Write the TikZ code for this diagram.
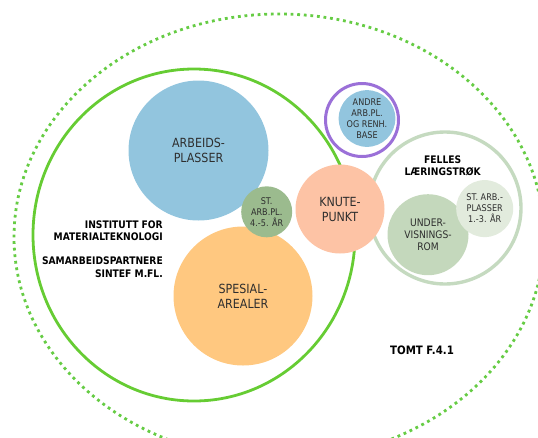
\documentclass[tikz,border=0pt]{standalone}
\usepackage{fontspec}
\setmainfont[FakeStretch=0.88]{DejaVu Sans}
\usetikzlibrary{shapes.geometric}
\definecolor{cblue}{HTML}{92C5DE}
\definecolor{corange}{HTML}{FFC880}
\definecolor{cpeach}{HTML}{FDC3A5}
\definecolor{cgreenA}{HTML}{9BBB8E}
\definecolor{cgreenB}{HTML}{C4D8BC}
\definecolor{cgreenC}{HTML}{E2EBDD}
\definecolor{cring}{HTML}{C5DAC0}
\definecolor{cline}{HTML}{66CC33}
\definecolor{cdots}{HTML}{66CC44}
\definecolor{cpurple}{HTML}{9B70D8}
\definecolor{ctext}{HTML}{2E2E2E}
\tikzset{
  bubble/.style={circle, inner sep=0pt, draw=none, text=ctext, align=center},
  bigtxt/.style={font=\fontsize{12.6}{15}\selectfont},
  midtxt/.style={font=\fontsize{10.4}{12}\selectfont},
  smalltxt/.style={font=\fontsize{9.2}{11}\selectfont},
  boldlabel/.style={inner sep=0pt, font=\bfseries\fontsize{10.4}{12.2}\selectfont, text=black},
}
\begin{document}
\begin{tikzpicture}[x=1pt, y=-1pt]
\useasboundingbox (0,0) rectangle (538,437);
% outer site boundary
\node[ellipse, minimum width=530pt, minimum height=446pt, inner sep=0pt,
      draw=cdots, line width=2.8pt, dash pattern=on 2.8pt off 3.8pt] (tomt) at (279,237) {};
% institute boundary
\node[ellipse, minimum width=322pt, minimum height=332pt, inner sep=0pt,
      draw=cline, line width=2.8pt] (inst) at (194,235) {};
% shared learning zone ring
\node[circle, minimum size=152pt, inner sep=0pt, draw=cring, line width=3.4pt] (felles) at (445,208) {};
% spaces
\node[bubble, bigtxt, fill=cblue, minimum size=140pt] (arb) at (198.5,150.5) {ARBEIDS-\\PLASSER};
\node[bubble, bigtxt, fill=corange, minimum size=139pt] (spes) at (243,296) {SPESIAL-\\AREALER};
\node[bubble, smalltxt, fill=cgreenA, minimum size=51pt] (st45) at (266.7,211.8) {ST.\\ARB.PL.\\4.-5. ÅR};
\node[bubble, bigtxt, fill=cpeach, minimum size=89pt] (knute) at (340,209) {KNUTE-\\PUNKT};
\node[bubble, midtxt, fill=cgreenB, minimum size=81pt] (underv) at (428,234.7) {UNDER-\\VISNINGS-\\ROM};
\node[bubble, smalltxt, fill=cgreenC, minimum size=57pt] (st13) at (484.7,208.6) {ST. ARB.-\\PLASSER\\1.-3. ÅR};
\node[circle, minimum size=73pt, inner sep=0pt, draw=cpurple, line width=3pt] (ring) at (362,120) {};
\node[bubble, smalltxt, fill=cblue, minimum size=55pt] (andre) at (367,118.5) {ANDRE\\ARB.PL.\\OG RENH.\\BASE};
% labels
\node[boldlabel, align=center] (fellestxt) at (442.7,165.8) {FELLES\\LÆRINGSTRØK};
\node[boldlabel, align=right, anchor=east] (insttxt) at (163,230.8) {INSTITUTT FOR\\MATERIALTEKNOLOGI};
\node[boldlabel, align=right, anchor=east] (samtxt) at (163,267.2) {SAMARBEIDSPARTNERE\\SINTEF M.FL.};
\node[boldlabel, font=\bfseries\fontsize{11.6}{14}\selectfont] (tomttxt) at (422,350.7) {TOMT F.4.1};
\end{tikzpicture}
\end{document}
